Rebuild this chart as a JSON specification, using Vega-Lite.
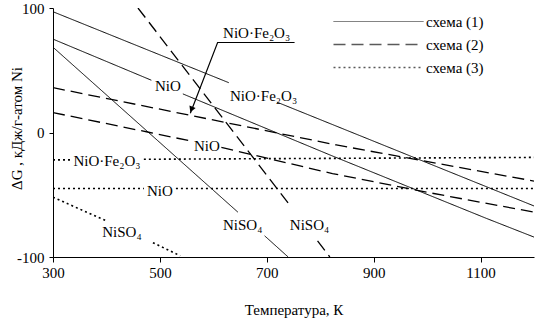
{
  "$schema": "https://vega.github.io/schema/vega-lite/v6.json",
  "width": 481,
  "height": 249,
  "autosize": {"type": "none"},
  "padding": {"left": 53, "top": 8, "right": 1, "bottom": 62},
  "background": "white",
  "config": {
    "view": {"stroke": null},
    "font": "Liberation Serif",
    "axis": {"labelFont": "Liberation Serif", "titleFont": "Liberation Serif", "labelFontSize": 15, "titleFontSize": 15, "titleFontWeight": "normal", "labelColor": "black", "titleColor": "black", "domainColor": "black", "tickColor": "black", "grid": false, "labelFlush": false}
  },
  "datasets": {
    "lines": [
      {"T": 300, "G": 97, "id": "s1a1", "scheme": "схема (1)"},
      {"T": 629, "G": 40, "id": "s1a1", "scheme": "схема (1)"},
      {"T": 719, "G": 24.4, "id": "s1a2", "scheme": "схема (1)"},
      {"T": 1200, "G": -59, "id": "s1a2", "scheme": "схема (1)"},
      {"T": 300, "G": 75, "id": "s1b1", "scheme": "схема (1)"},
      {"T": 484, "G": 42, "id": "s1b1", "scheme": "схема (1)"},
      {"T": 543, "G": 31, "id": "s1b2", "scheme": "схема (1)"},
      {"T": 818, "G": -18, "id": "s1b2", "scheme": "схема (1)"},
      {"T": 1111, "G": -69, "id": "s1b2", "scheme": "схема (1)"},
      {"T": 1200, "G": -84, "id": "s1b2", "scheme": "схема (1)"},
      {"T": 300, "G": 68.5, "id": "s1c1", "scheme": "схема (1)"},
      {"T": 646, "G": -64, "id": "s1c1", "scheme": "схема (1)"},
      {"T": 696, "G": -83, "id": "s1c2", "scheme": "схема (1)"},
      {"T": 740, "G": -100, "id": "s1c2", "scheme": "схема (1)"},
      {"T": 459, "G": 100, "id": "s2a1", "scheme": "схема (2)"},
      {"T": 746, "G": -60, "id": "s2a1", "scheme": "схема (2)"},
      {"T": 795, "G": -87, "id": "s2a2", "scheme": "схема (2)"},
      {"T": 818, "G": -100, "id": "s2a2", "scheme": "схема (2)"},
      {"T": 300, "G": 36, "id": "s2b", "scheme": "схема (2)"},
      {"T": 520, "G": 17, "id": "s2b", "scheme": "схема (2)"},
      {"T": 830, "G": -10, "id": "s2b", "scheme": "схема (2)"},
      {"T": 1200, "G": -39, "id": "s2b", "scheme": "схема (2)"},
      {"T": 300, "G": 16, "id": "s2c1", "scheme": "схема (2)"},
      {"T": 481, "G": 0, "id": "s2c1", "scheme": "схема (2)"},
      {"T": 560, "G": -7, "id": "s2c1", "scheme": "схема (2)"},
      {"T": 615, "G": -12, "id": "s2c2", "scheme": "схема (2)"},
      {"T": 823, "G": -33, "id": "s2c2", "scheme": "схема (2)"},
      {"T": 1000, "G": -48, "id": "s2c2", "scheme": "схема (2)"},
      {"T": 1200, "G": -64, "id": "s2c2", "scheme": "схема (2)"},
      {"T": 300, "G": -22, "id": "s3a1", "scheme": "схема (3)"},
      {"T": 332, "G": -22, "id": "s3a1", "scheme": "схема (3)"},
      {"T": 470, "G": -21.5, "id": "s3a2", "scheme": "схема (3)"},
      {"T": 1200, "G": -20, "id": "s3a2", "scheme": "схема (3)"},
      {"T": 300, "G": -45, "id": "s3b1", "scheme": "схема (3)"},
      {"T": 470, "G": -45, "id": "s3b1", "scheme": "схема (3)"},
      {"T": 530, "G": -45, "id": "s3b2", "scheme": "схема (3)"},
      {"T": 1200, "G": -45, "id": "s3b2", "scheme": "схема (3)"},
      {"T": 300, "G": -52, "id": "s3c1", "scheme": "схема (3)"},
      {"T": 400, "G": -71, "id": "s3c1", "scheme": "схема (3)"},
      {"T": 487, "G": -88.5, "id": "s3c2", "scheme": "схема (3)"},
      {"T": 538, "G": -99, "id": "s3c2", "scheme": "схема (3)"}
    ],
    "labels": [
      {"T": 681, "G": 80.3, "text": "NiO·Fe₂O₃"},
      {"T": 515, "G": 37, "text": "NiO"},
      {"T": 694, "G": 29.7, "text": "NiO·Fe₂O₃"},
      {"T": 588, "G": -11.2, "text": "NiO"},
      {"T": 401, "G": -23, "text": "NiO·Fe₂O₃"},
      {"T": 500, "G": -47, "text": "NiO"},
      {"T": 429, "G": -80.3, "text": "NiSO₄"},
      {"T": 655, "G": -74, "text": "NiSO₄"},
      {"T": 780, "G": -74, "text": "NiSO₄"}
    ],
    "arrow": [
      {"i": 1, "T": 752, "G": 72.3},
      {"i": 2, "T": 608, "G": 72.3},
      {"i": 3, "T": 557, "G": 15.5}
    ],
    "head": [
      {"T": 559, "G": 18.5}
    ]
  },
  "layer": [
    {
      "mark": {"type": "rule", "color": "#808080", "strokeWidth": 2},
      "encoding": {"y": {"datum": 0, "type": "quantitative", "scale": {"domain": [-100, 100]}}}
    },
    {
      "mark": {"type": "rule", "color": "black", "strokeWidth": 1.5},
      "encoding": {"y": {"datum": 100, "type": "quantitative"}}
    },
    {
      "data": {"name": "lines"},
      "mark": {"type": "line", "color": "black", "clip": true},
      "encoding": {
        "x": {"field": "T", "type": "quantitative", "scale": {"domain": [300, 1200], "nice": false},
          "axis": {"values": [300, 500, 700, 900, 1100], "labelExpr": "'' + datum.value", "title": "Температура, К", "tickSize": 5, "labelPadding": 3, "titlePadding": 22}},
        "y": {"field": "G", "type": "quantitative", "scale": {"domain": [-100, 100], "nice": false},
          "axis": {"values": [-100, 0, 100], "labelExpr": "'' + datum.value", "title": "ΔG , кДж/г-атом Ni", "tickSize": 4, "labelPadding": 5, "titleX": -37, "titleY": 120, "titleBaseline": "middle"}},
        "detail": {"field": "id"},
        "strokeDash": {"field": "scheme", "type": "nominal",
          "scale": {"domain": ["схема (1)", "схема (2)", "схема (3)"], "range": [[1, 0], [12, 6], [2, 3]]},
          "legend": {"title": null, "orient": "none", "legendX": 358, "legendY": 6, "symbolType": "M-17,0H1", "symbolSize": 100, "labelFont": "Liberation Serif", "labelFontSize": 15, "labelColor": "black", "labelOffset": 0, "rowPadding": 7, "padding": 0, "symbolStrokeColor": "#5a5a5a", "symbolStrokeWidth": 1.8}
        },
        "strokeWidth": {"field": "scheme", "type": "nominal", "scale": {"domain": ["схема (1)", "схема (2)", "схема (3)"], "range": [1, 1.6, 1.5]}, "legend": null}
      }
    },
    {
      "data": {"name": "labels"},
      "mark": {"type": "text", "font": "Liberation Serif", "fontSize": 15, "color": "black", "baseline": "middle", "align": "center"},
      "encoding": {
        "x": {"field": "T", "type": "quantitative"},
        "y": {"field": "G", "type": "quantitative"},
        "text": {"field": "text"}
      }
    },
    {
      "data": {"name": "arrow"},
      "mark": {"type": "line", "color": "black", "strokeWidth": 1.2},
      "encoding": {
        "x": {"field": "T", "type": "quantitative"},
        "y": {"field": "G", "type": "quantitative"},
        "order": {"field": "i"}
      }
    },
    {
      "data": {"name": "head"},
      "mark": {"type": "point", "shape": "triangle-up", "filled": true, "color": "black", "size": 45, "angle": 202.6, "opacity": 1},
      "encoding": {
        "x": {"field": "T", "type": "quantitative"},
        "y": {"field": "G", "type": "quantitative"}
      }
    }
  ]
}
